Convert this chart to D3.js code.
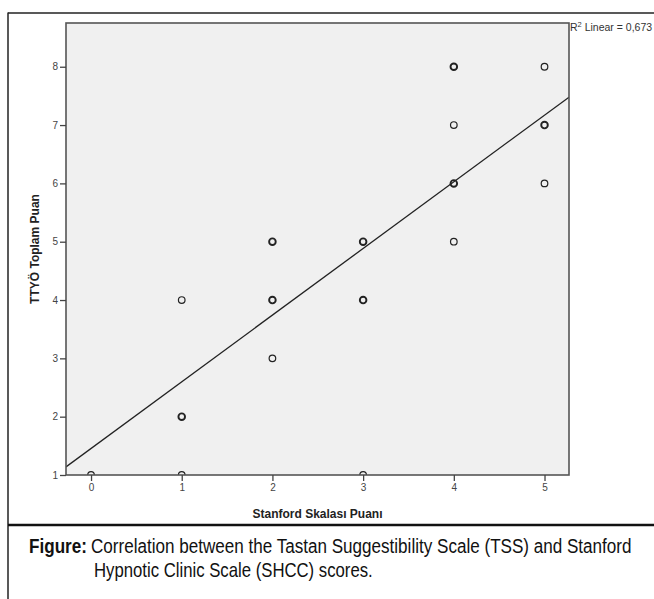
<!DOCTYPE html>
<html><head><meta charset="utf-8">
<script src="https://cdn.jsdelivr.net/npm/d3@7"></script>
<style>
html,body{margin:0;padding:0;background:#fff;overflow:hidden;}
svg{display:block;}
</style></head>
<body>
<svg id="c" width="654" height="599"></svg>
<script>
// ---- data ----
const xTickValues = [0, 1, 2, 3, 4, 5];
const yTickValues = [1, 2, 3, 4, 5, 6, 7, 8];
const stanford = [0, 1, 3, 1, 1, 2, 2, 2, 3, 3, 4, 4, 4, 4, 5, 5, 5];
const ttyo     = [1, 1, 1, 2, 4, 3, 4, 5, 4, 5, 5, 6, 7, 8, 6, 7, 8];
const counts   = [1, 1, 1, 2, 1, 1, 2, 2, 2, 2, 1, 2, 1, 2, 1, 2, 1];
const fitIntercept = 1.455;
const fitSlope = 1.143;
const r2Label = "0,673";
const xTitle = "Stanford Skalası Puanı";
const yTitle = "TTYÖ Toplam Puan";
const captionBold = "Figure:";
const captionLine1 = "Correlation between the Tastan Suggestibility Scale (TSS) and Stanford";
const captionLine2 = "Hypnotic Clinic Scale (SHCC) scores.";

// ---- layout ----
const svg = d3.select("#c");
const plot = {left: 66, right: 569, top: 23, bottom: 475};
const x = d3.scaleLinear().domain([-0.276, 5.27]).range([plot.left, plot.right]);
const y = d3.scaleLinear().domain([1, 8.75]).range([plot.bottom, plot.top]);

// outer frame
svg.append("line").attr("x1", 8).attr("x2", 8).attr("y1", 12.5).attr("y2", 599)
  .attr("stroke", "#222").attr("stroke-width", 1.5);
svg.append("line").attr("x1", 8).attr("x2", 654).attr("y1", 13).attr("y2", 13)
  .attr("stroke", "#222").attr("stroke-width", 1.5);
svg.append("line").attr("x1", 8).attr("x2", 654).attr("y1", 525).attr("y2", 525)
  .attr("stroke", "#111").attr("stroke-width", 2.5);

// plot background
svg.append("rect").attr("x", plot.left).attr("y", plot.top)
  .attr("width", plot.right - plot.left).attr("height", plot.bottom - plot.top)
  .attr("fill", "#f0f0f0");

svg.append("clipPath").attr("id", "clip").append("rect")
  .attr("x", plot.left).attr("y", plot.top)
  .attr("width", plot.right - plot.left).attr("height", plot.bottom - plot.top);

const g = svg.append("g").attr("clip-path", "url(#clip)");

// regression line
const xd = x.domain();
g.append("line")
  .attr("x1", x(xd[0])).attr("y1", y(fitIntercept + fitSlope * xd[0]))
  .attr("x2", x(xd[1])).attr("y2", y(fitIntercept + fitSlope * xd[1]))
  .attr("stroke", "#222").attr("stroke-width", 1.3);

// points
g.selectAll("circle.pt").data(stanford.map((s, i) => ({s, t: ttyo[i], c: counts[i]})))
  .enter().append("circle").attr("class", "pt")
  .attr("cx", d => x(d.s)).attr("cy", d => y(d.t)).attr("r", 3.3)
  .attr("fill", "none").attr("stroke", "#222")
  .attr("stroke-width", d => d.c > 1 ? 1.9 : 1.2);

// plot border
svg.append("rect").attr("x", plot.left).attr("y", plot.top)
  .attr("width", plot.right - plot.left).attr("height", plot.bottom - plot.top)
  .attr("fill", "none").attr("stroke", "#555").attr("stroke-width", 1.6);

// axes
const xAxis = d3.axisBottom(x).tickValues(xTickValues).tickSize(6).tickPadding(3).tickFormat(d3.format("d"));
const yAxis = d3.axisLeft(y).tickValues(yTickValues).tickSize(6).tickPadding(2).tickFormat(d3.format("d"));
const gx = svg.append("g").attr("transform", `translate(0,${plot.bottom})`).call(xAxis);
const gy = svg.append("g").attr("transform", `translate(${plot.left},0)`).call(yAxis);
[gx, gy].forEach(a => {
  a.select(".domain").remove();
  a.selectAll(".tick line").attr("stroke", "#444").attr("stroke-width", 1.3);
  a.selectAll(".tick text").attr("font-family", "Liberation Sans, Arial, sans-serif")
    .attr("font-size", 10).attr("fill", "#444");
});

// axis titles
svg.append("text").attr("x", (plot.left + plot.right) / 2).attr("y", 518)
  .attr("text-anchor", "middle").attr("font-family", "Liberation Sans, Arial, sans-serif")
  .attr("font-weight", "bold").attr("font-size", 12).attr("fill", "#222").text(xTitle);
svg.append("text").attr("transform", `translate(39,${(plot.top + plot.bottom) / 2}) rotate(-90)`)
  .attr("text-anchor", "middle").attr("font-family", "Liberation Sans, Arial, sans-serif")
  .attr("font-weight", "bold").attr("font-size", 12).attr("fill", "#222").text(yTitle);

// R2 label
const r2 = svg.append("text").attr("x", 570).attr("y", 31)
  .attr("font-family", "Liberation Sans, Arial, sans-serif").attr("font-size", 10.5).attr("fill", "#333");
r2.append("tspan").text("R");
r2.append("tspan").attr("font-size", 7.5).attr("dy", -4.5).text("2");
r2.append("tspan").attr("dy", 4.5).text(" Linear = " + r2Label);

// caption: condensed by horizontal scaling to the widths in the reference
const capFont = "Liberation Sans Narrow, Liberation Sans, Arial, sans-serif";
function condensed(txt, x0, y0, targetW, bold) {
  const t = svg.append("text").attr("x", 0).attr("y", 0).attr("font-family", capFont)
    .attr("font-size", 21).attr("fill", "#111")
    .attr("font-weight", bold ? "bold" : "normal").text(txt);
  const w = t.node().getComputedTextLength();
  t.attr("transform", `translate(${x0},${y0}) scale(${targetW / w},1)`);
}
condensed(captionBold, 29, 553, 58, true);
condensed(captionLine1, 91, 553, 541, false);
condensed(captionLine2, 94, 577, 279, false);
</script>
</body></html>
